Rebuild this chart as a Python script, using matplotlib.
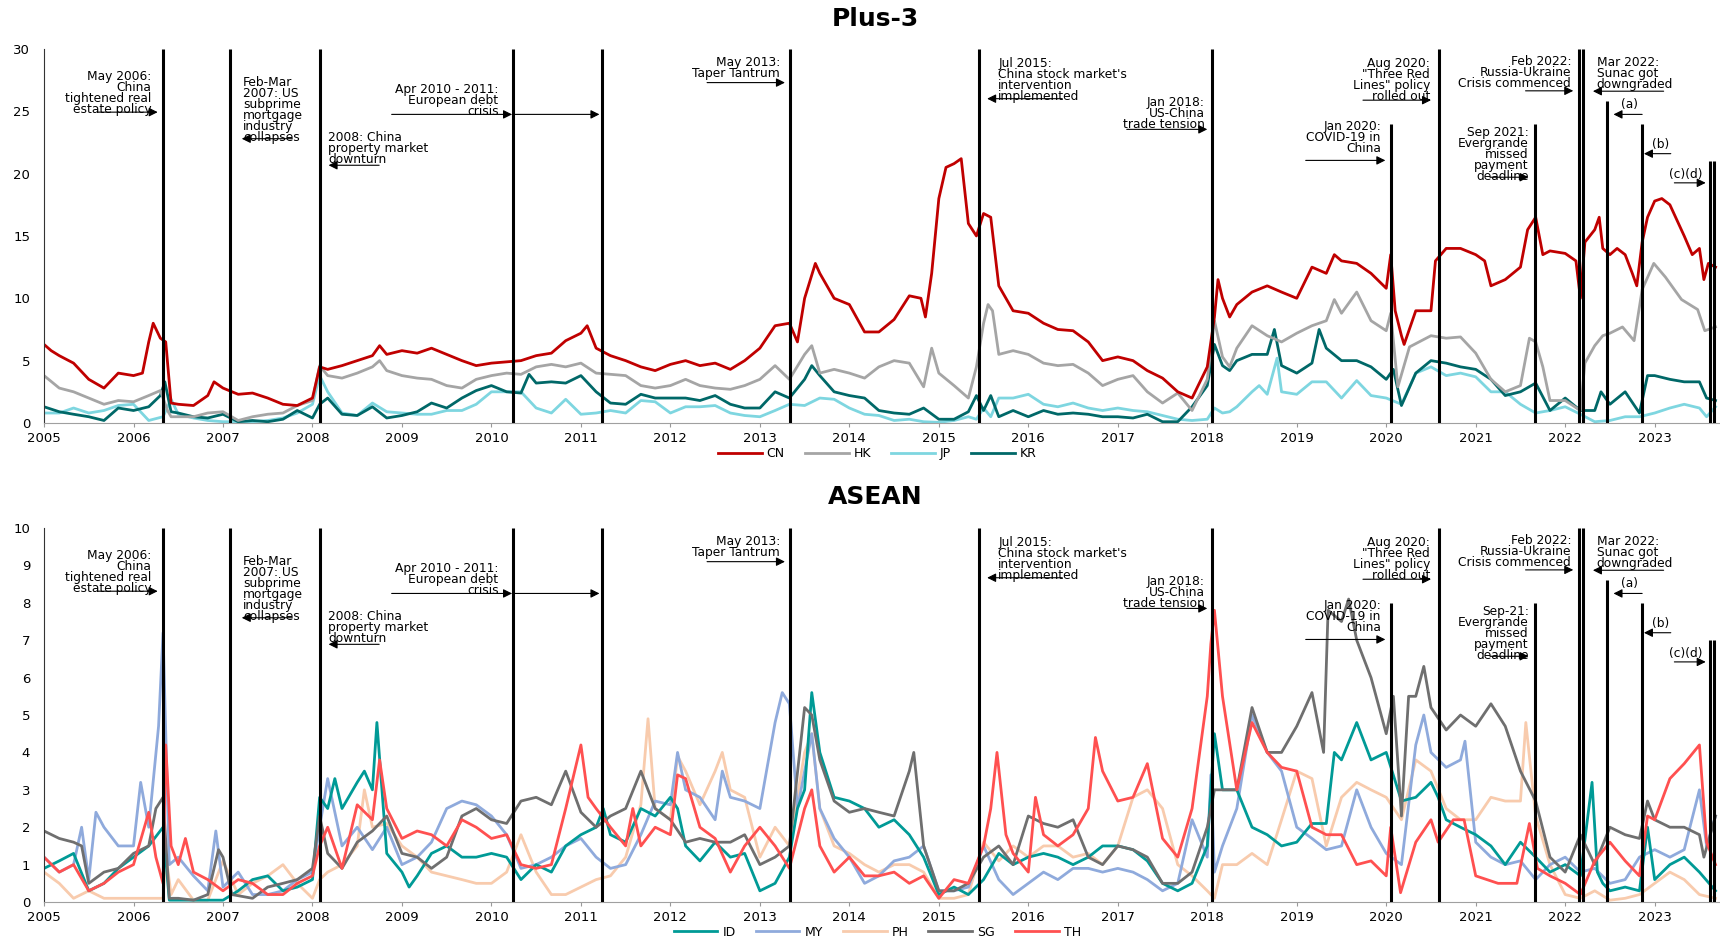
import matplotlib.pyplot as plt

# ---------------- Plus-3 (dates in fractional years) ----------------
cn_t = [2005.0, 2005.08, 2005.17, 2005.33, 2005.5, 2005.67, 2005.83, 2006.0, 2006.1, 2006.17, 2006.22, 2006.3, 2006.36,
        2006.42, 2006.5, 2006.67, 2006.83, 2006.9, 2007.0, 2007.17, 2007.33, 2007.5, 2007.67, 2007.83, 2008.0, 2008.08,
        2008.17, 2008.33, 2008.5, 2008.67, 2008.75, 2008.83, 2009.0, 2009.17, 2009.33, 2009.5, 2009.67, 2009.83, 2010.0,
        2010.17, 2010.33, 2010.5, 2010.67, 2010.83, 2011.0, 2011.07, 2011.17, 2011.33, 2011.5, 2011.67, 2011.83, 2012.0,
        2012.17, 2012.33, 2012.5, 2012.67, 2012.83, 2013.0, 2013.17, 2013.33, 2013.42, 2013.5, 2013.62, 2013.67, 2013.83,
        2014.0, 2014.17, 2014.33, 2014.5, 2014.67, 2014.8, 2014.85, 2014.92, 2015.0, 2015.08, 2015.17, 2015.25, 2015.33,
        2015.42, 2015.5, 2015.58, 2015.67, 2015.83, 2016.0, 2016.17, 2016.33, 2016.5, 2016.67, 2016.83, 2017.0, 2017.17,
        2017.33, 2017.5, 2017.67, 2017.83, 2018.0, 2018.08, 2018.12, 2018.17, 2018.25, 2018.33, 2018.5, 2018.67, 2018.83,
        2019.0, 2019.17, 2019.33, 2019.42, 2019.5, 2019.67, 2019.83, 2020.0, 2020.05, 2020.1, 2020.17, 2020.2, 2020.33,
        2020.5, 2020.55, 2020.67, 2020.83, 2021.0, 2021.1, 2021.17, 2021.33, 2021.5, 2021.58, 2021.67, 2021.75, 2021.83,
        2022.0, 2022.12, 2022.17, 2022.22, 2022.33, 2022.38, 2022.42, 2022.5, 2022.58, 2022.67, 2022.75, 2022.8, 2022.86,
        2022.92, 2023.0, 2023.08, 2023.17, 2023.33, 2023.42, 2023.5, 2023.55, 2023.6, 2023.68]
cn_v = [6.3, 5.8, 5.4, 4.8, 3.5, 2.8, 4.0, 3.8, 4.0, 6.5, 8.0, 6.8, 6.5,
        1.6, 1.5, 1.4, 2.2, 3.3, 2.8, 2.3, 2.4, 2.0, 1.5, 1.4, 2.0, 4.5,
        4.3, 4.6, 5.0, 5.4, 6.2, 5.5, 5.8, 5.6, 6.0, 5.5, 5.0, 4.6, 4.8,
        4.9, 5.0, 5.4, 5.6, 6.6, 7.2, 7.8, 6.0, 5.4, 5.0, 4.5, 4.2, 4.7,
        5.0, 4.6, 4.8, 4.3, 5.0, 6.0, 7.8, 8.0, 6.5, 10.0, 12.8, 12.0, 10.0,
        9.5, 7.3, 7.3, 8.3, 10.2, 10.0, 8.5, 12.0, 18.0, 20.5, 20.8, 21.2, 16.0,
        15.0, 16.8, 16.5, 11.0, 9.0, 8.8, 8.0, 7.5, 7.4, 6.5, 5.0, 5.3, 5.0,
        4.2, 3.6, 2.5, 2.0, 4.5, 8.5, 11.5, 10.0, 8.5, 9.5, 10.5, 11.0, 10.5,
        10.0, 12.5, 12.0, 13.5, 13.0, 12.8, 12.0, 10.8, 13.5, 9.0, 7.0, 6.3, 9.0,
        9.0, 13.0, 14.0, 14.0, 13.5, 13.0, 11.0, 11.5, 12.5, 15.5, 16.5, 13.5, 13.8,
        13.6, 13.0, 10.0, 14.5, 15.5, 16.5, 14.0, 13.5, 14.0, 13.5, 12.0, 11.0, 14.5,
        16.5, 17.8, 18.0, 17.5, 15.0, 13.5, 14.0, 11.5, 12.8, 12.5]

hk_t = [2005.0, 2005.17, 2005.33, 2005.5, 2005.67, 2005.83, 2006.0, 2006.17, 2006.3, 2006.38, 2006.42, 2006.67, 2006.83,
        2007.0, 2007.17, 2007.33, 2007.5, 2007.67, 2007.83, 2008.0, 2008.08, 2008.17, 2008.33, 2008.5, 2008.67, 2008.75,
        2008.83, 2009.0, 2009.17, 2009.33, 2009.5, 2009.67, 2009.83, 2010.0, 2010.17, 2010.33, 2010.5, 2010.67, 2010.83,
        2011.0, 2011.17, 2011.33, 2011.5, 2011.67, 2011.83, 2012.0, 2012.17, 2012.33, 2012.5, 2012.67, 2012.83, 2013.0,
        2013.17, 2013.33, 2013.5, 2013.58, 2013.67, 2013.83, 2014.0, 2014.17, 2014.33, 2014.5, 2014.67, 2014.83, 2014.92,
        2015.0, 2015.17, 2015.33, 2015.42, 2015.5, 2015.55, 2015.6, 2015.67, 2015.83, 2016.0, 2016.17, 2016.33, 2016.5,
        2016.67, 2016.83, 2017.0, 2017.17, 2017.33, 2017.5, 2017.67, 2017.83, 2018.0, 2018.08, 2018.17, 2018.25, 2018.33,
        2018.5, 2018.67, 2018.83, 2019.0, 2019.17, 2019.33, 2019.42, 2019.5, 2019.67, 2019.83, 2020.0, 2020.05, 2020.13,
        2020.26, 2020.5, 2020.67, 2020.83, 2021.0, 2021.17, 2021.33, 2021.5, 2021.6, 2021.67, 2021.75, 2021.83, 2022.0,
        2022.17, 2022.22, 2022.33, 2022.42, 2022.5, 2022.64, 2022.77, 2022.86, 2022.99, 2023.12, 2023.3, 2023.48, 2023.56,
        2023.68]
hk_v = [3.8, 2.8, 2.5, 2.0, 1.5, 1.8, 1.7, 2.2, 2.6, 1.0, 0.5, 0.5, 0.8,
        0.9, 0.2, 0.5, 0.7, 0.8, 1.4, 1.8, 4.6, 3.8, 3.6, 4.0, 4.5, 5.0,
        4.2, 3.8, 3.6, 3.5, 3.0, 2.8, 3.5, 3.8, 4.0, 3.9, 4.5, 4.7, 4.5,
        4.8, 4.0, 3.9, 3.8, 3.0, 2.8, 3.0, 3.5, 3.0, 2.8, 2.7, 3.0, 3.5,
        4.6, 3.5, 5.5, 6.2, 4.0, 4.3, 4.0, 3.6, 4.5, 5.0, 4.8, 2.9, 6.0,
        4.0, 3.0, 2.0, 4.5, 8.0, 9.5, 9.0, 5.5, 5.8, 5.5, 4.8, 4.6, 4.7,
        4.0, 3.0, 3.5, 3.8, 2.5, 1.6, 2.4, 1.0, 3.5, 8.2, 5.3, 4.5, 6.0,
        7.8, 7.0, 6.5, 7.2, 7.8, 8.2, 9.9, 8.8, 10.5, 8.2, 7.4, 8.8, 2.9,
        6.1, 7.0, 6.8, 6.9, 5.6, 3.5, 2.5, 3.0, 6.8, 6.5, 4.5, 1.8, 1.8,
        1.0, 4.8, 6.2, 7.0, 7.2, 7.7, 6.6, 10.7, 12.8, 11.7, 9.9, 9.1, 7.4,
        7.7]

jp_t = [2005.0, 2005.17, 2005.33, 2005.5, 2005.67, 2005.83, 2006.0, 2006.17, 2006.33, 2006.42, 2006.5, 2006.67, 2006.83,
        2007.0, 2007.17, 2007.33, 2007.5, 2007.67, 2007.83, 2008.0, 2008.08, 2008.17, 2008.33, 2008.5, 2008.67, 2008.83,
        2009.0, 2009.17, 2009.33, 2009.5, 2009.67, 2009.83, 2010.0, 2010.17, 2010.33, 2010.5, 2010.67, 2010.83, 2011.0,
        2011.17, 2011.33, 2011.5, 2011.67, 2011.83, 2012.0, 2012.17, 2012.33, 2012.5, 2012.67, 2012.83, 2013.0, 2013.17,
        2013.33, 2013.5, 2013.67, 2013.83, 2014.0, 2014.17, 2014.33, 2014.5, 2014.67, 2014.83, 2015.0, 2015.17, 2015.33,
        2015.42, 2015.5, 2015.58, 2015.67, 2015.83, 2016.0, 2016.17, 2016.33, 2016.5, 2016.67, 2016.83, 2017.0, 2017.17,
        2017.33, 2017.5, 2017.67, 2017.83, 2018.0, 2018.08, 2018.17, 2018.25, 2018.33, 2018.5, 2018.58, 2018.67, 2018.78,
        2018.83, 2019.0, 2019.17, 2019.33, 2019.5, 2019.67, 2019.83, 2020.0, 2020.17, 2020.33, 2020.5, 2020.67, 2020.83,
        2021.0, 2021.17, 2021.33, 2021.5, 2021.67, 2021.83, 2022.0, 2022.17, 2022.33, 2022.5, 2022.67, 2022.83, 2023.0,
        2023.17, 2023.33, 2023.5, 2023.58, 2023.68]
jp_v = [0.8, 0.8, 1.2, 0.8, 1.0, 1.4, 1.5, 0.2, 0.5, 1.9, 0.7, 0.4, 0.2,
        0.1, 0.1, 0.1, 0.2, 0.4, 0.8, 1.5, 3.8, 2.5, 0.8, 0.6, 1.6, 0.9,
        0.8, 0.7, 0.7, 1.0, 1.0, 1.5, 2.5, 2.5, 2.5, 1.2, 0.8, 1.9, 0.7,
        0.8, 1.0, 0.8, 1.8, 1.7, 0.8, 1.3, 1.3, 1.4, 0.8, 0.6, 0.5, 1.0,
        1.5, 1.4, 2.0, 1.9, 1.2, 0.7, 0.6, 0.2, 0.3, 0.1, 0.05, 0.2, 0.5,
        0.3, 1.2, 0.5, 2.0, 2.0, 2.3, 1.5, 1.3, 1.6, 1.2, 1.0, 1.2, 1.0,
        0.9, 0.6, 0.3, 0.2, 0.3, 1.2, 0.8, 0.9, 1.3, 2.5, 3.0, 2.3, 5.2,
        2.5, 2.3, 3.3, 3.3, 2.0, 3.4, 2.2, 2.0, 1.5, 4.0, 4.5, 3.8, 4.0,
        3.7, 2.5, 2.5, 1.5, 0.8, 1.0, 1.3, 0.7, 0.1, 0.2, 0.5, 0.5, 0.8,
        1.2, 1.5, 1.2, 0.5, 1.3]

kr_t = [2005.0, 2005.17, 2005.33, 2005.5, 2005.67, 2005.83, 2006.0, 2006.17, 2006.3, 2006.35, 2006.42, 2006.5, 2006.67,
        2006.83, 2007.0, 2007.17, 2007.33, 2007.5, 2007.67, 2007.83, 2008.0, 2008.08, 2008.17, 2008.33, 2008.5, 2008.67,
        2008.83, 2009.0, 2009.17, 2009.33, 2009.5, 2009.67, 2009.83, 2010.0, 2010.17, 2010.33, 2010.42, 2010.5, 2010.67,
        2010.83, 2011.0, 2011.17, 2011.33, 2011.5, 2011.67, 2011.83, 2012.0, 2012.17, 2012.33, 2012.5, 2012.67, 2012.83,
        2013.0, 2013.17, 2013.33, 2013.5, 2013.58, 2013.67, 2013.83, 2014.0, 2014.17, 2014.33, 2014.5, 2014.67, 2014.83,
        2015.0, 2015.17, 2015.33, 2015.42, 2015.5, 2015.58, 2015.67, 2015.83, 2016.0, 2016.17, 2016.33, 2016.5, 2016.67,
        2016.83, 2017.0, 2017.17, 2017.33, 2017.5, 2017.67, 2017.83, 2018.0, 2018.08, 2018.17, 2018.25, 2018.33, 2018.5,
        2018.67, 2018.75, 2018.83, 2019.0, 2019.17, 2019.25, 2019.33, 2019.5, 2019.67, 2019.83, 2020.0, 2020.08, 2020.17,
        2020.33, 2020.5, 2020.67, 2020.83, 2021.0, 2021.17, 2021.33, 2021.5, 2021.67, 2021.83, 2022.0, 2022.17, 2022.33,
        2022.4, 2022.5, 2022.67, 2022.83, 2022.92, 2023.0, 2023.17, 2023.33, 2023.5, 2023.58, 2023.68]
kr_v = [1.3, 0.9, 0.7, 0.5, 0.2, 1.2, 1.0, 1.3, 2.2, 3.3, 0.9, 0.8, 0.5,
        0.4, 0.7, 0.1, 0.2, 0.1, 0.3, 1.0, 0.4, 1.5, 2.0, 0.7, 0.6, 1.3,
        0.4, 0.6, 0.9, 1.6, 1.2, 2.0, 2.6, 3.0, 2.5, 2.4, 3.9, 3.2, 3.3,
        3.2, 3.8, 2.5, 1.6, 1.5, 2.3, 2.0, 2.0, 2.0, 1.8, 2.2, 1.5, 1.2,
        1.2, 2.5, 2.0, 3.5, 4.6, 3.8, 2.5, 2.2, 2.0, 1.0, 0.8, 0.7, 1.2,
        0.3, 0.3, 0.9, 2.2, 1.0, 2.2, 0.5, 1.0, 0.5, 1.0, 0.7, 0.8, 0.7,
        0.5, 0.5, 0.4, 0.7, 0.1, 0.1, 1.3, 3.0, 6.3, 4.6, 4.2, 5.0, 5.5,
        5.5, 7.5, 4.6, 4.0, 4.8, 7.5, 6.0, 5.0, 5.0, 4.5, 3.5, 4.3, 1.4,
        4.0, 5.0, 4.8, 4.5, 4.3, 3.5, 2.2, 2.5, 3.2, 1.0, 2.0, 1.0, 1.0,
        2.5, 1.5, 2.5, 0.8, 3.8, 3.8, 3.5, 3.3, 3.3, 2.0, 1.8]

# ---------------- ASEAN ----------------
id_t = [2005.0, 2005.17, 2005.33, 2005.5, 2005.67, 2005.83, 2006.0, 2006.17, 2006.33, 2006.4, 2006.67, 2007.0, 2007.17,
        2007.33, 2007.5, 2007.67, 2007.83, 2008.0, 2008.08, 2008.17, 2008.25, 2008.33, 2008.5, 2008.58, 2008.67, 2008.72,
        2008.83, 2009.0, 2009.08, 2009.17, 2009.33, 2009.5, 2009.67, 2009.83, 2010.0, 2010.17, 2010.33, 2010.5, 2010.67,
        2010.83, 2011.0, 2011.17, 2011.25, 2011.33, 2011.5, 2011.67, 2011.83, 2012.0, 2012.08, 2012.17, 2012.33, 2012.5,
        2012.67, 2012.83, 2013.0, 2013.17, 2013.33, 2013.42, 2013.5, 2013.58, 2013.67, 2013.83, 2014.0, 2014.17, 2014.33,
        2014.5, 2014.67, 2014.83, 2015.0, 2015.17, 2015.33, 2015.5, 2015.67, 2015.83, 2016.0, 2016.17, 2016.33, 2016.5,
        2016.67, 2016.83, 2017.0, 2017.17, 2017.33, 2017.5, 2017.67, 2017.83, 2018.0, 2018.08, 2018.17, 2018.33, 2018.5,
        2018.67, 2018.83, 2019.0, 2019.17, 2019.33, 2019.42, 2019.5, 2019.67, 2019.83, 2020.0, 2020.17, 2020.33, 2020.5,
        2020.58, 2020.67, 2020.83, 2021.0, 2021.17, 2021.33, 2021.5, 2021.67, 2021.83, 2022.0, 2022.17, 2022.3, 2022.36,
        2022.42, 2022.5, 2022.67, 2022.83, 2022.92, 2023.0, 2023.17, 2023.33, 2023.5, 2023.68]
id_v = [0.9, 1.1, 1.3, 0.3, 0.5, 0.9, 1.2, 1.5, 2.0, 0.05, 0.05, 0.05, 0.3,
        0.6, 0.7, 0.3, 0.4, 0.6, 2.8, 2.5, 3.3, 2.5, 3.2, 3.5, 3.0, 4.8,
        1.3, 0.8, 0.4, 0.7, 1.3, 1.5, 1.2, 1.2, 1.3, 1.2, 0.6, 1.0, 0.8,
        1.5, 1.8, 2.0, 2.5, 1.8, 1.6, 2.5, 2.3, 2.8, 2.5, 1.5, 1.1, 1.6,
        1.2, 1.3, 0.3, 0.5, 1.2, 2.5, 3.0, 5.6, 4.0, 2.8, 2.7, 2.5, 2.0,
        2.2, 1.8, 1.2, 0.2, 0.4, 0.2, 0.6, 1.3, 1.0, 1.2, 1.3, 1.2, 1.0,
        1.2, 1.5, 1.5, 1.4, 1.1, 0.5, 0.3, 0.5, 1.5, 4.5, 3.0, 3.0, 2.0,
        1.8, 1.5, 1.6, 2.1, 2.1, 4.0, 3.8, 4.8, 3.8, 4.0, 2.7, 2.8, 3.2,
        2.8, 2.2, 2.0, 1.8, 1.5, 1.0, 1.6, 1.2, 0.8, 1.0, 0.7, 3.2, 0.8,
        0.5, 0.3, 0.4, 0.3, 2.0, 0.6, 1.0, 1.2, 0.8, 0.3]

my_t = [2005.0, 2005.17, 2005.33, 2005.42, 2005.5, 2005.58, 2005.67, 2005.83, 2006.0, 2006.08, 2006.17, 2006.28, 2006.33,
        2006.4, 2006.5, 2006.67, 2006.83, 2006.92, 2007.0, 2007.17, 2007.33, 2007.5, 2007.67, 2007.83, 2008.0, 2008.08,
        2008.17, 2008.33, 2008.5, 2008.67, 2008.83, 2009.0, 2009.17, 2009.33, 2009.5, 2009.67, 2009.83, 2010.0, 2010.17,
        2010.33, 2010.5, 2010.67, 2010.83, 2011.0, 2011.17, 2011.33, 2011.5, 2011.67, 2011.83, 2012.0, 2012.08, 2012.17,
        2012.33, 2012.5, 2012.58, 2012.67, 2012.83, 2013.0, 2013.17, 2013.25, 2013.33, 2013.42, 2013.5, 2013.58, 2013.67,
        2013.83, 2014.0, 2014.17, 2014.33, 2014.5, 2014.67, 2014.83, 2015.0, 2015.17, 2015.33, 2015.5, 2015.67, 2015.83,
        2016.0, 2016.17, 2016.33, 2016.5, 2016.67, 2016.83, 2017.0, 2017.17, 2017.33, 2017.5, 2017.67, 2017.83, 2018.0,
        2018.04, 2018.08, 2018.17, 2018.33, 2018.5, 2018.67, 2018.83, 2019.0, 2019.17, 2019.33, 2019.5, 2019.67, 2019.83,
        2020.0, 2020.17, 2020.33, 2020.42, 2020.5, 2020.67, 2020.83, 2020.88, 2021.0, 2021.17, 2021.33, 2021.5, 2021.67,
        2021.83, 2022.0, 2022.17, 2022.33, 2022.5, 2022.67, 2022.83, 2023.0, 2023.17, 2023.33, 2023.5, 2023.58, 2023.68]
my_v = [1.2, 0.8, 1.0, 2.0, 0.6, 2.4, 2.0, 1.5, 1.5, 3.2, 2.0, 4.7, 7.2,
        1.0, 1.2, 0.7, 0.3, 1.9, 0.4, 0.8, 0.2, 0.2, 0.3, 0.6, 0.8, 2.0,
        3.3, 1.5, 2.0, 1.4, 2.0, 1.0, 1.2, 1.6, 2.5, 2.7, 2.6, 2.3, 1.8,
        0.9, 1.0, 1.2, 1.5, 1.7, 1.2, 0.9, 1.0, 1.8, 2.7, 2.6, 4.0, 3.0,
        2.8, 2.2, 3.5, 2.8, 2.7, 2.5, 4.8, 5.6, 5.3, 2.5, 3.5, 4.5, 2.5,
        1.7, 1.2, 0.5, 0.7, 1.1, 1.2, 1.5, 0.3, 0.3, 0.4, 1.5, 0.6, 0.2,
        0.5, 0.8, 0.6, 0.9, 0.9, 0.8, 0.9, 0.8, 0.6, 0.3, 0.5, 2.2, 1.2,
        3.4, 0.8, 1.5, 2.5, 5.0, 4.0, 3.5, 2.0, 1.7, 1.4, 1.5, 3.0, 2.0,
        1.3, 1.0, 4.2, 5.0, 4.0, 3.6, 3.8, 4.3, 1.6, 1.2, 1.0, 1.1, 0.6,
        1.0, 1.2, 0.8, 0.9, 0.5, 0.6, 1.2, 1.4, 1.2, 1.4, 3.0, 1.5, 2.3]

ph_t = [2005.0, 2005.17, 2005.33, 2005.5, 2005.67, 2005.83, 2006.0, 2006.17, 2006.33, 2006.36, 2006.42, 2006.5, 2006.67,
        2006.83, 2007.0, 2007.17, 2007.33, 2007.5, 2007.67, 2007.83, 2008.0, 2008.08, 2008.17, 2008.33, 2008.5, 2008.58,
        2008.67, 2008.83, 2009.0, 2009.17, 2009.33, 2009.5, 2009.67, 2009.83, 2010.0, 2010.17, 2010.33, 2010.5, 2010.67,
        2010.83, 2011.0, 2011.17, 2011.33, 2011.5, 2011.67, 2011.75, 2011.83, 2012.0, 2012.08, 2012.17, 2012.33, 2012.5,
        2012.58, 2012.67, 2012.83, 2013.0, 2013.17, 2013.33, 2013.5, 2013.58, 2013.67, 2013.83, 2014.0, 2014.17, 2014.33,
        2014.5, 2014.67, 2014.83, 2015.0, 2015.17, 2015.33, 2015.5, 2015.67, 2015.83, 2016.0, 2016.17, 2016.33, 2016.5,
        2016.67, 2016.83, 2017.0, 2017.17, 2017.33, 2017.5, 2017.67, 2017.83, 2018.0, 2018.08, 2018.17, 2018.33, 2018.5,
        2018.67, 2018.83, 2019.0, 2019.17, 2019.33, 2019.5, 2019.67, 2019.83, 2020.0, 2020.17, 2020.33, 2020.5, 2020.67,
        2020.83, 2021.0, 2021.17, 2021.33, 2021.5, 2021.56, 2021.67, 2021.83, 2022.0, 2022.17, 2022.33, 2022.5, 2022.67,
        2022.83, 2023.0, 2023.17, 2023.33, 2023.5, 2023.68]
ph_v = [0.8, 0.5, 0.1, 0.3, 0.1, 0.1, 0.1, 0.1, 0.1, 1.3, 0.2, 0.6, 0.05,
        0.05, 1.1, 0.2, 0.5, 0.7, 1.0, 0.5, 0.1, 0.6, 0.8, 1.0, 1.5, 3.0,
        2.0, 2.1, 1.5, 1.2, 0.8, 0.7, 0.6, 0.5, 0.5, 0.8, 1.8, 0.8, 0.2,
        0.2, 0.4, 0.6, 0.7, 1.2, 2.6, 4.9, 2.5, 2.2, 3.9, 3.5, 2.6, 3.5,
        4.0, 3.0, 2.8, 1.2, 2.0, 1.5, 4.0, 4.5, 2.5, 1.5, 1.3, 1.0, 0.8,
        1.0, 1.0, 0.8, 0.1, 0.1, 0.2, 1.6, 1.1, 1.5, 1.2, 1.5, 1.5, 1.2,
        1.3, 1.0, 1.5, 2.8, 3.0, 2.5, 1.0, 0.7, 0.3, 0.1, 1.0, 1.0, 1.3,
        1.0, 2.2, 3.5, 3.3, 1.5, 2.8, 3.2, 3.0, 2.8, 2.2, 3.8, 3.5, 2.5,
        2.2, 2.2, 2.8, 2.7, 2.7, 4.8, 2.3, 1.0, 0.2, 0.1, 0.3, 0.05, 0.1,
        0.2, 0.5, 0.8, 0.6, 0.2, 0.1]

sg_t = [2005.0, 2005.17, 2005.33, 2005.42, 2005.5, 2005.67, 2005.83, 2006.0, 2006.17, 2006.25, 2006.33, 2006.4, 2006.5,
        2006.67, 2006.83, 2006.95, 2007.0, 2007.1, 2007.33, 2007.5, 2007.67, 2007.83, 2008.0, 2008.08, 2008.17, 2008.33,
        2008.5, 2008.67, 2008.83, 2009.0, 2009.17, 2009.33, 2009.5, 2009.67, 2009.83, 2010.0, 2010.17, 2010.33, 2010.5,
        2010.67, 2010.83, 2011.0, 2011.17, 2011.33, 2011.5, 2011.67, 2011.83, 2012.0, 2012.17, 2012.33, 2012.5, 2012.67,
        2012.83, 2013.0, 2013.17, 2013.33, 2013.5, 2013.58, 2013.67, 2013.83, 2014.0, 2014.17, 2014.33, 2014.5, 2014.67,
        2014.72, 2014.83, 2015.0, 2015.17, 2015.33, 2015.5, 2015.67, 2015.83, 2016.0, 2016.17, 2016.33, 2016.5, 2016.67,
        2016.83, 2017.0, 2017.17, 2017.33, 2017.5, 2017.67, 2017.83, 2018.0, 2018.08, 2018.17, 2018.33, 2018.5, 2018.67,
        2018.83, 2019.0, 2019.17, 2019.3, 2019.35, 2019.5, 2019.58, 2019.67, 2019.83, 2020.0, 2020.08, 2020.17, 2020.25,
        2020.33, 2020.42, 2020.5, 2020.67, 2020.83, 2021.0, 2021.17, 2021.33, 2021.5, 2021.67, 2021.83, 2022.0, 2022.17,
        2022.33, 2022.5, 2022.67, 2022.83, 2022.92, 2023.0, 2023.17, 2023.33, 2023.5, 2023.55, 2023.68]
sg_v = [1.9, 1.7, 1.6, 1.5, 0.5, 0.8, 0.9, 1.3, 1.5, 2.5, 2.8, 0.1, 0.1,
        0.05, 0.2, 1.4, 1.2, 0.2, 0.1, 0.4, 0.5, 0.6, 0.9, 2.3, 1.3, 0.9,
        1.6, 1.9, 2.3, 1.3, 1.2, 0.9, 1.2, 2.3, 2.5, 2.2, 2.1, 2.7, 2.8,
        2.6, 3.5, 2.4, 2.0, 2.3, 2.5, 3.5, 2.5, 2.2, 1.6, 1.7, 1.6, 1.6,
        1.8, 1.0, 1.2, 1.5, 5.2, 5.0, 3.8, 2.7, 2.4, 2.5, 2.4, 2.3, 3.5,
        4.0, 1.5, 0.3, 0.3, 0.5, 1.2, 1.5, 1.0, 2.3, 2.1, 2.0, 2.2, 1.2,
        1.0, 1.5, 1.4, 1.2, 0.5, 0.5, 0.8, 2.0, 3.0, 3.0, 3.0, 5.2, 4.0,
        4.0, 4.7, 5.6, 4.0, 7.8, 7.5, 8.1, 7.0, 6.0, 4.5, 5.5, 2.3, 5.5,
        5.5, 6.3, 5.2, 4.6, 5.0, 4.7, 5.3, 4.7, 3.5, 2.7, 1.2, 0.8, 1.8,
        1.0, 2.0, 1.8, 1.7, 2.7, 2.2, 2.0, 2.0, 1.8, 1.2, 2.3]

th_t = [2005.0, 2005.17, 2005.33, 2005.5, 2005.67, 2005.83, 2006.0, 2006.17, 2006.25, 2006.33, 2006.36, 2006.42, 2006.5,
        2006.58, 2006.67, 2006.83, 2007.0, 2007.17, 2007.33, 2007.5, 2007.67, 2007.83, 2008.0, 2008.08, 2008.17, 2008.33,
        2008.5, 2008.67, 2008.75, 2008.83, 2009.0, 2009.17, 2009.33, 2009.5, 2009.67, 2009.83, 2010.0, 2010.17, 2010.33,
        2010.5, 2010.67, 2010.83, 2011.0, 2011.08, 2011.17, 2011.33, 2011.5, 2011.58, 2011.67, 2011.83, 2012.0, 2012.08,
        2012.17, 2012.33, 2012.5, 2012.67, 2012.83, 2013.0, 2013.17, 2013.33, 2013.5, 2013.58, 2013.67, 2013.83, 2014.0,
        2014.17, 2014.33, 2014.5, 2014.67, 2014.83, 2015.0, 2015.17, 2015.33, 2015.5, 2015.58, 2015.65, 2015.75, 2015.83,
        2016.0, 2016.08, 2016.17, 2016.33, 2016.5, 2016.67, 2016.75, 2016.83, 2017.0, 2017.17, 2017.33, 2017.5, 2017.67,
        2017.83, 2018.0, 2018.04, 2018.08, 2018.17, 2018.33, 2018.5, 2018.67, 2018.83, 2019.0, 2019.17, 2019.33, 2019.5,
        2019.67, 2019.83, 2020.0, 2020.05, 2020.16, 2020.33, 2020.5, 2020.58, 2020.75, 2020.87, 2021.0, 2021.25, 2021.46,
        2021.6, 2021.69, 2021.83, 2022.0, 2022.17, 2022.33, 2022.5, 2022.67, 2022.83, 2022.92, 2023.0, 2023.17, 2023.33,
        2023.5, 2023.58, 2023.68]
th_v = [1.2, 0.8, 1.0, 0.3, 0.5, 0.8, 1.0, 2.4, 1.2, 0.5, 4.2, 1.5, 1.0,
        1.7, 0.8, 0.6, 0.3, 0.6, 0.5, 0.2, 0.2, 0.5, 0.7, 1.5, 2.0, 0.9,
        2.6, 2.2, 3.8, 2.5, 1.7, 1.9, 1.8, 1.5, 2.2, 2.0, 1.7, 1.8, 1.0,
        0.9, 1.0, 2.5, 4.2, 2.8, 2.5, 2.0, 1.5, 2.5, 1.5, 2.0, 1.8, 3.4,
        3.3, 2.0, 1.7, 0.8, 1.5, 2.0, 1.5, 0.9, 2.5, 3.0, 1.5, 0.8, 1.2,
        0.7, 0.7, 0.8, 0.5, 0.7, 0.1, 0.6, 0.5, 1.5, 2.5, 4.0, 1.8, 1.3,
        0.8, 2.8, 1.8, 1.5, 1.8, 2.5, 4.4, 3.5, 2.7, 2.8, 3.7, 1.7, 1.2,
        2.5, 5.5, 6.9, 7.8, 5.5, 3.0, 4.8, 4.0, 3.6, 3.5, 2.0, 1.8, 1.8,
        1.0, 1.1, 0.7, 2.0, 0.25, 1.6, 2.2, 1.6, 2.2, 2.2, 0.7, 0.5, 0.5,
        2.1, 0.9, 0.7, 0.5, 0.2, 1.1, 1.6, 1.1, 0.7, 2.3, 2.2, 3.3, 3.7,
        4.2, 1.6, 1.0]

# event markers: date and height as share of the axis
event_x = [2006.33, 2007.08, 2008.08, 2010.24, 2011.24, 2013.335, 2015.445, 2018.055, 2020.056, 2020.585,
           2021.66, 2022.149, 2022.20, 2022.47, 2022.86, 2023.616, 2023.66]
event_h = [1, 1, 1, 1, 1, 1, 1, 1, 0.8, 1, 0.8, 1, 1, 0.86, 0.8, 0.7, 0.7]

# annotation text: label, x, top (share of axis), alignment
notes = [
    ("May 2006:\nChina\ntightened real\nestate policy", 2006.20, 0.945, "right"),
    ("Feb-Mar\n2007: US\nsubprime\nmortgage\nindustry\ncollapses", 2007.225, 0.928, "left"),
    ("2008: China\nproperty market\ndownturn", 2008.176, 0.781, "left"),
    ("Apr 2010 - 2011:\nEuropean debt\ncrisis", 2010.08, 0.908, "right"),
    ("May 2013:\nTaper Tantrum", 2013.225, 0.98, "right"),
    ("Jul 2015:\nChina stock market's\nintervention\nimplemented", 2015.665, 0.978, "left"),
    ("Jan 2018:\nUS-China\ntrade tension", 2017.97, 0.875, "right"),
    ("Jan 2020:\nCOVID-19 in\nChina", 2019.94, 0.811, "right"),
    ("Aug 2020:\n\"Three Red\nLines\" policy\nrolled out", 2020.49, 0.978, "right"),
    ("SEP:\nEvergrande\nmissed\npayment\ndeadline", 2021.594, 0.795, "right"),
    ("Feb 2022:\nRussia-Ukraine\nCrisis commenced", 2022.067, 0.985, "right"),
    ("Mar 2022:\nSunac got\ndowngraded", 2022.35, 0.98, "left"),
    ("(a)", 2022.72, 0.868, "center"),
    ("(b)", 2023.065, 0.762, "center"),
    ("(c)(d)", 2023.345, 0.682, "center"),
]
# arrows: tail x, tip x, height (share of axis)
arrows = [
    (2005.60, 2006.27, 0.831), (2007.775, 2007.21, 0.76), (2008.745, 2008.18, 0.689),
    (2008.885, 2010.23, 0.825), (2010.23, 2011.207, 0.825), (2012.41, 2013.28, 0.91),
    (2016.38, 2015.54, 0.867), (2017.10, 2018.0, 0.785), (2019.10, 2019.99, 0.702),
    (2019.74, 2020.50, 0.863), (2021.16, 2021.59, 0.657), (2021.557, 2022.09, 0.888),
    (2023.10, 2022.31, 0.887), (2022.86, 2022.54, 0.825), (2023.18, 2022.88, 0.72),
    (2023.22, 2023.57, 0.642),
]


def decorate(ax, ymax, ystep, sep_label):
    ax.set_xlim(2005, 2023.73)
    ax.set_ylim(0, ymax)
    ax.set_yticks(range(0, ymax + 1, ystep))
    ax.set_xticks(range(2005, 2024))
    ax.tick_params(axis='y', length=0, labelsize=9.5, pad=10)
    ax.tick_params(axis='x', length=3, labelsize=9.5, color='#999999')
    for s in ['top', 'right']:
        ax.spines[s].set_visible(False)
    ax.spines['left'].set_color('#333333')
    ax.spines['bottom'].set_color('#a0a0a0')
    for x, h in zip(event_x, event_h):
        ax.vlines(x, 0, h * ymax, color='black', lw=2.2, zorder=4)
    for label, x, y, ha in notes:
        label = label.replace("SEP:", sep_label)
        ax.text(x, y * ymax, label, ha=ha, va='top', multialignment=ha,
                fontsize=8.8, linespacing=0.8, zorder=5)
    for x0, x1, y in arrows:
        ax.annotate('', xy=(x1, y * ymax), xytext=(x0, y * ymax),
                    arrowprops=dict(arrowstyle='-|>', color='black', lw=0.8,
                                    mutation_scale=13, shrinkA=0, shrinkB=0), zorder=5)


fig = plt.figure(figsize=(17.2, 9.41), dpi=100)
ax1 = fig.add_axes([0.0256, 0.5505, 0.9744, 0.3975])
ax2 = fig.add_axes([0.0256, 0.0414, 0.9744, 0.3975])

# Plus-3
lw = 2.0
l_jp, = ax1.plot(jp_t, jp_v, color='#7ed6e0', lw=lw, label='JP')
l_kr, = ax1.plot(kr_t, kr_v, color='#006868', lw=lw, label='KR')
l_hk, = ax1.plot(hk_t, hk_v, color='#a5a5a5', lw=lw, label='HK')
l_cn, = ax1.plot(cn_t, cn_v, color='#c00000', lw=lw, label='CN')
decorate(ax1, 30, 5, "Sep 2021:")

# ASEAN
l_ph, = ax2.plot(ph_t, ph_v, color='#f8cbad', lw=lw, label='PH')
l_my, = ax2.plot(my_t, my_v, color='#8faadc', lw=lw, label='MY')
l_id, = ax2.plot(id_t, id_v, color='#009a96', lw=lw, label='ID')
l_sg, = ax2.plot(sg_t, sg_v, color='#6f6f6f', lw=lw, label='SG')
l_th, = ax2.plot(th_t, th_v, color='#ff5050', lw=lw, label='TH')
decorate(ax2, 10, 1, "Sep-21:")

fig.text(0.509, 0.980, 'Plus-3', ha='center', va='center', fontsize=18, fontweight='bold')
fig.text(0.509, 0.472, 'ASEAN', ha='center', va='center', fontsize=18, fontweight='bold')

fig.legend(handles=[l_cn, l_hk, l_jp, l_kr], loc='center', bbox_to_anchor=(0.51, 0.518), ncol=4,
           frameon=False, fontsize=9, handlelength=3.5, columnspacing=1.6, handletextpad=0.4)
fig.legend(handles=[l_id, l_my, l_ph, l_sg, l_th], loc='center', bbox_to_anchor=(0.51, 0.0095), ncol=5,
           frameon=False, fontsize=9, handlelength=3.5, columnspacing=1.6, handletextpad=0.4)

fig.savefig('out.png', dpi=100)
